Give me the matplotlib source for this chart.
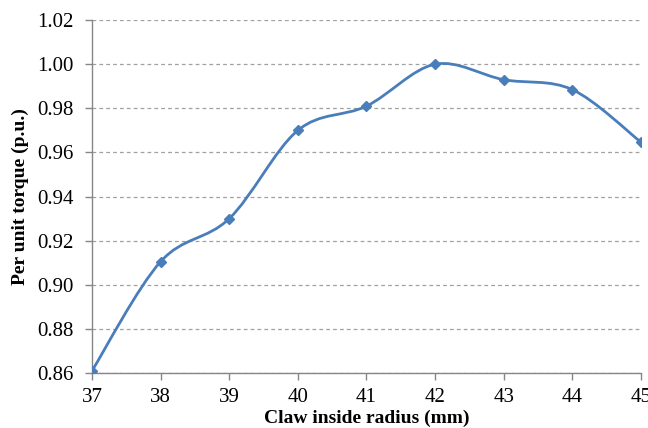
import numpy as np
import matplotlib.pyplot as plt
from matplotlib.path import Path
from matplotlib.patches import PathPatch

radius = [37, 38, 39, 40, 41, 42, 43, 44, 45]
torque = [0.861, 0.9105, 0.930, 0.970, 0.981, 1.000, 0.993, 0.9885, 0.9647]
y_ticks = [0.86, 0.88, 0.90, 0.92, 0.94, 0.96, 0.98, 1.00, 1.02]

plt.rcParams['font.family'] = ['Liberation Serif', 'DejaVu Serif']
blue = '#4A7EBB'
axis_gray = '#868686'

fig = plt.figure(figsize=(6.48, 4.28), dpi=100)
ax = fig.add_axes([0.142, 0.1285, 0.847, 0.8245])

# smoothed line like Excel: cubic bezier segments through the points
x = np.array(radius, dtype=float)
y = np.array(torque, dtype=float)
verts = [(x[0], y[0])]
codes = [Path.MOVETO]
n = len(x)
for i in range(n - 1):
    i0 = max(i - 1, 0)
    i3 = min(i + 2, n - 1)
    c1 = (x[i] + (x[i + 1] - x[i0]) / 6, y[i] + (y[i + 1] - y[i0]) / 6)
    c2 = (x[i + 1] - (x[i3] - x[i]) / 6, y[i + 1] - (y[i3] - y[i]) / 6)
    verts += [c1, c2, (x[i + 1], y[i + 1])]
    codes += [Path.CURVE4] * 3
ax.add_patch(PathPatch(Path(verts, codes), facecolor='none', edgecolor=blue,
                       lw=2.0, capstyle='round', joinstyle='round', zorder=3))
ax.plot(radius, torque, linestyle='none', marker='D', markersize=5.5,
        color=blue, zorder=4)

ax.set_xlim(37, 45)
ax.set_ylim(0.86, 1.02)
ax.set_xticks(radius)
ax.set_yticks(y_ticks)
ax.set_yticklabels(['%.2f' % v for v in y_ticks])

ax.grid(axis='y', linestyle=(0, (3, 2.5)), color='#A0A0A0', linewidth=0.9)
ax.set_axisbelow(True)
for s in ['top', 'right']:
    ax.spines[s].set_visible(False)
for s in ['left', 'bottom']:
    ax.spines[s].set_color(axis_gray)
    ax.spines[s].set_linewidth(1.0)
ax.tick_params(axis='both', colors=axis_gray, labelcolor='black',
               labelsize=15, length=5, width=1.0)
ax.tick_params(axis='x', pad=6)
ax.tick_params(axis='y', pad=8)

ax.set_xlabel('Claw inside radius (mm)', fontsize=14, fontweight='bold', labelpad=2)
ax.set_ylabel('Per unit torque (p.u.)', fontsize=14, fontweight='bold', labelpad=6)

plt.savefig('out.png', dpi=100)
